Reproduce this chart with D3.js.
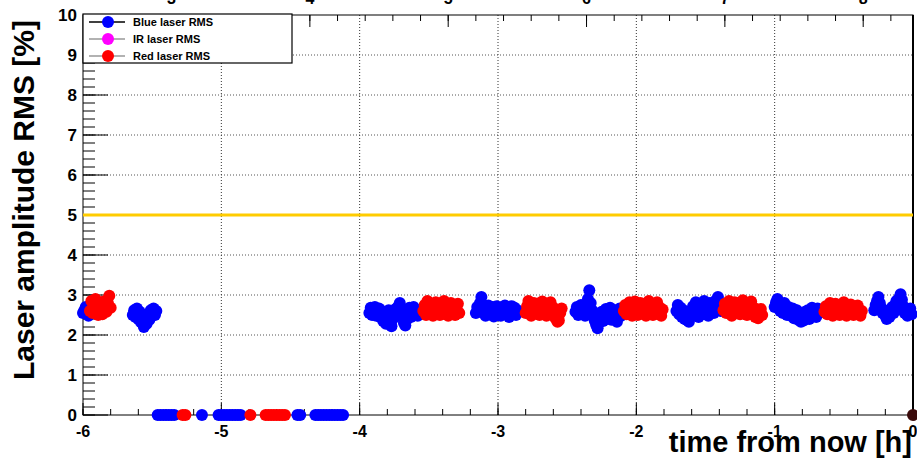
<!DOCTYPE html>
<html>
<head>
<meta charset="utf-8">
<script src="https://cdn.jsdelivr.net/npm/d3@7"></script>
<style>
  body { margin: 0; background: #fff; }
  text { font-family: "Liberation Sans", Arial, sans-serif; font-weight: bold; }
</style>
</head>
<body>
<div class="chart"></div>
<script>
// frame
let FRAME_WIDTH = 917;
let FRAME_HEIGHT = 459;
let PLOT = {left: 83, right: 913, top: 15, bottom: 415};

// blue laser RMS: time from now (h) and RMS (%)
const blueTime = [
  -6.00, -5.99, -5.98, -5.97, -5.96, -5.95, -5.94,
  -5.64, -5.63, -5.62, -5.61, -5.60, -5.59, -5.58, -5.57, -5.56, -5.55, -5.54, -5.53, -5.52, -5.51, -5.50, -5.49, -5.48, -5.47,
  -5.46, -5.44, -5.42, -5.40, -5.38, -5.36, -5.34,
  -5.14,
  -5.02, -5.00, -4.98, -4.96, -4.94, -4.92, -4.90, -4.88, -4.86,
  -4.45, -4.43,
  -4.32, -4.30, -4.28, -4.26, -4.24, -4.22, -4.20, -4.18, -4.16, -4.14, -4.12,
  -3.93, -3.92, -3.91, -3.90, -3.89, -3.88, -3.87, -3.86, -3.85, -3.84, -3.83, -3.82, -3.81, -3.80, -3.79, -3.78, -3.77, -3.76, -3.75,
  -3.74, -3.73, -3.72, -3.71, -3.70, -3.69, -3.68, -3.67, -3.66, -3.65, -3.64, -3.63, -3.62, -3.61, -3.60, -3.59, -3.58, -3.57,
  -3.16, -3.15, -3.14, -3.13, -3.12, -3.11, -3.10, -3.09, -3.08, -3.07, -3.06, -3.05, -3.04, -3.03, -3.02, -3.01,
  -3.00, -2.99, -2.98, -2.97, -2.96, -2.95, -2.94, -2.93, -2.92, -2.91, -2.90, -2.89, -2.88, -2.87, -2.86,
  -2.44, -2.43, -2.42, -2.41, -2.40, -2.39, -2.38, -2.37, -2.36, -2.35, -2.34, -2.33, -2.32, -2.31, -2.30, -2.29, -2.28,
  -2.27, -2.26, -2.25, -2.24, -2.23, -2.22, -2.21, -2.20, -2.19, -2.18, -2.17, -2.16, -2.15, -2.14, -2.13, -2.12, -2.11,
  -1.71, -1.70, -1.69, -1.68, -1.67, -1.66, -1.65, -1.64, -1.63, -1.62, -1.61, -1.60, -1.59, -1.58, -1.57, -1.56, -1.55,
  -1.54, -1.53, -1.52, -1.51, -1.50, -1.49, -1.48, -1.47, -1.46, -1.45, -1.44, -1.43, -1.42, -1.41, -1.40, -1.39,
  -1.00, -0.99, -0.98, -0.97, -0.96, -0.95, -0.94, -0.93, -0.92, -0.91, -0.90, -0.89, -0.88, -0.87, -0.86, -0.85, -0.84,
  -0.83, -0.82, -0.81, -0.80, -0.79, -0.78, -0.77, -0.76, -0.75, -0.74, -0.73, -0.72, -0.71, -0.70, -0.69, -0.68,
  -0.28, -0.27, -0.26, -0.25, -0.24, -0.23, -0.22, -0.21, -0.20, -0.19, -0.18, -0.17, -0.16, -0.15,
  -0.14, -0.13, -0.12, -0.11, -0.10, -0.09, -0.08, -0.07, -0.06, -0.05, -0.04, -0.03, -0.02, -0.01];
const blueRms = [
  2.55, 2.62, 2.70, 2.58, 2.48, 2.60, 2.66,
  2.50, 2.62, 2.45, 2.66, 2.40, 2.58, 2.32, 2.48, 2.20, 2.40, 2.28, 2.52, 2.38, 2.62, 2.48, 2.66, 2.50, 2.60,
  0, 0, 0, 0, 0, 0, 0,
  0,
  0, 0, 0, 0, 0, 0, 0, 0, 0,
  0, 0,
  0, 0, 0, 0, 0, 0, 0, 0, 0, 0, 0,
  2.55, 2.68, 2.50, 2.62, 2.70, 2.48, 2.58, 2.66, 2.45, 2.60, 2.35, 2.52, 2.28, 2.45, 2.62, 2.30, 2.22, 2.40, 2.55,
  2.65, 2.48, 2.72, 2.80, 2.62, 2.45, 2.30, 2.24, 2.38, 2.55, 2.68, 2.45, 2.60, 2.70, 2.50, 2.62, 2.48, 2.58,
  2.55, 2.70, 2.62, 2.80, 2.95, 2.72, 2.58, 2.48, 2.66, 2.74, 2.52, 2.62, 2.70, 2.46, 2.58, 2.72,
  2.55, 2.65, 2.48, 2.70, 2.60, 2.74, 2.52, 2.66, 2.45, 2.60, 2.72, 2.55, 2.68, 2.50, 2.62,
  2.58, 2.70, 2.50, 2.65, 2.75, 2.55, 2.68, 2.48, 2.72, 2.90, 3.12, 2.80, 2.62, 2.45, 2.35, 2.25, 2.17,
  2.30, 2.42, 2.58, 2.35, 2.50, 2.65, 2.40, 2.55, 2.68, 2.38, 2.52, 2.62, 2.45, 2.33, 2.55, 2.66, 2.48,
  2.60, 2.75, 2.52, 2.68, 2.45, 2.62, 2.40, 2.55, 2.36, 2.33, 2.48, 2.60, 2.72, 2.50, 2.82, 2.65, 2.45,
  2.58, 2.74, 2.52, 2.85, 2.62, 2.70, 2.48, 2.80, 2.60, 2.72, 2.55, 2.85, 2.65, 2.95, 2.78, 2.60,
  2.70, 2.82, 2.90, 2.75, 2.60, 2.72, 2.55, 2.80, 2.65, 2.50, 2.70, 2.58, 2.48, 2.66, 2.42, 2.55, 2.62,
  2.38, 2.50, 2.33, 2.45, 2.36, 2.58, 2.48, 2.62, 2.40, 2.55, 2.68, 2.50, 2.60, 2.45, 2.66, 2.55,
  2.62, 2.75, 2.85, 2.95, 2.80, 2.68, 2.55, 2.62, 2.48, 2.40, 2.52, 2.45, 2.60, 2.70,
  2.55, 2.75, 2.85, 2.68, 2.92, 3.02, 2.88, 2.72, 2.55, 2.65, 2.48, 2.58, 2.66, 2.52];

// red laser RMS
const redTime = [
  -5.95, -5.94, -5.93, -5.92, -5.91, -5.90, -5.89, -5.88, -5.87, -5.86, -5.85, -5.84, -5.83, -5.82, -5.81, -5.80,
  -5.28, -5.26,
  -4.79,
  -4.68, -4.66, -4.64, -4.62, -4.60, -4.58, -4.56, -4.54,
  -3.54, -3.53, -3.52, -3.51, -3.50, -3.49, -3.48, -3.47, -3.46, -3.45, -3.44, -3.43, -3.42, -3.41,
  -3.40, -3.39, -3.38, -3.37, -3.36, -3.35, -3.34, -3.33, -3.32, -3.31, -3.30, -3.29, -3.28,
  -2.80, -2.79, -2.78, -2.77, -2.76, -2.75, -2.74, -2.73, -2.72, -2.71, -2.70, -2.69, -2.68, -2.67,
  -2.66, -2.65, -2.64, -2.63, -2.62, -2.61, -2.60, -2.59, -2.58, -2.57, -2.56, -2.55, -2.54,
  -2.09, -2.08, -2.07, -2.06, -2.05, -2.04, -2.03, -2.02, -2.01, -2.00, -1.99, -1.98, -1.97, -1.96, -1.95,
  -1.94, -1.93, -1.92, -1.91, -1.90, -1.89, -1.88, -1.87, -1.86, -1.85, -1.84, -1.83, -1.82, -1.81,
  -1.37, -1.36, -1.35, -1.34, -1.33, -1.32, -1.31, -1.30, -1.29, -1.28, -1.27, -1.26, -1.25, -1.24, -1.23,
  -1.22, -1.21, -1.20, -1.19, -1.18, -1.17, -1.16, -1.15, -1.14, -1.13, -1.12, -1.11, -1.10, -1.09,
  -0.64, -0.63, -0.62, -0.61, -0.60, -0.59, -0.58, -0.57, -0.56, -0.55, -0.54, -0.53, -0.52, -0.51,
  -0.50, -0.49, -0.48, -0.47, -0.46, -0.45, -0.44, -0.43, -0.42, -0.41, -0.40, -0.39, -0.38, -0.37];
const redRms = [
  2.60, 2.85, 2.55, 2.72, 2.90, 2.62, 2.50, 2.78, 2.66, 2.52, 2.84, 2.70, 2.58, 2.80, 2.98, 2.68,
  0, 0,
  0,
  0, 0, 0, 0, 0, 0, 0, 0,
  2.60, 2.75, 2.50, 2.85, 2.68, 2.55, 2.78, 2.48, 2.70, 2.82, 2.58, 2.66, 2.50, 2.80,
  2.62, 2.85, 2.55, 2.72, 2.48, 2.68, 2.80, 2.58, 2.74, 2.50, 2.66, 2.78, 2.55,
  2.55, 2.72, 2.85, 2.62, 2.48, 2.70, 2.80, 2.55, 2.66, 2.78, 2.50, 2.62, 2.84, 2.58,
  2.70, 2.48, 2.75, 2.60, 2.82, 2.52, 2.68, 2.45, 2.40, 2.33, 2.36, 2.55, 2.66,
  2.60, 2.75, 2.52, 2.68, 2.82, 2.58, 2.48, 2.72, 2.84, 2.60, 2.50, 2.70, 2.80, 2.55, 2.65,
  2.78, 2.48, 2.62, 2.85, 2.56, 2.70, 2.50, 2.76, 2.62, 2.82, 2.55, 2.68, 2.48, 2.64,
  2.62, 2.78, 2.55, 2.70, 2.85, 2.60, 2.48, 2.72, 2.82, 2.58, 2.66, 2.80, 2.52, 2.74, 2.87,
  2.60, 2.70, 2.50, 2.78, 2.62, 2.84, 2.55, 2.68, 2.45, 2.60, 2.42, 2.55, 2.65, 2.50,
  2.58, 2.72, 2.52, 2.65, 2.80, 2.60, 2.48, 2.70, 2.78, 2.55, 2.66, 2.50, 2.72, 2.58,
  2.82, 2.62, 2.48, 2.70, 2.56, 2.76, 2.60, 2.50, 2.68, 2.55, 2.74, 2.62, 2.48, 2.60];

// last point at "now"
const nowTime = [0];
const nowRms = [0];

const threshold = 5;
const xTicks = [-6, -5, -4, -3, -2, -1, 0];
const yTicks = [0, 1, 2, 3, 4, 5, 6, 7, 8, 9, 10];
// clock hours on the top axis, current time ~ 8.36 h
const clockNow = 8.36;
const clockHours = [3, 4, 5, 6, 7, 8];

const legendNames = ["Blue laser RMS", "IR laser RMS", "Red laser RMS"];
const legendColors = ["#0000ff", "#ff00ff", "#ff0000"];

let svg = d3.select(".chart").append("svg")
  .attr("width", FRAME_WIDTH)
  .attr("height", FRAME_HEIGHT);

svg.append("rect").attr("width", FRAME_WIDTH).attr("height", FRAME_HEIGHT).attr("fill", "#fff");

const x = d3.scaleLinear().domain([-6, 0]).range([PLOT.left, PLOT.right]);
const y = d3.scaleLinear().domain([0, 10]).range([PLOT.bottom, PLOT.top]);

// grid
svg.append("g").selectAll("line").data(yTicks.slice(1, -1)).enter().append("line")
  .attr("x1", PLOT.left).attr("x2", PLOT.right)
  .attr("y1", d => y(d)).attr("y2", d => y(d))
  .attr("stroke", "#555").attr("stroke-width", 1).attr("stroke-dasharray", "1,2");
svg.append("g").selectAll("line").data(xTicks.slice(1, -1)).enter().append("line")
  .attr("x1", d => x(d)).attr("x2", d => x(d))
  .attr("y1", PLOT.top).attr("y2", PLOT.bottom)
  .attr("stroke", "#333").attr("stroke-width", 1).attr("stroke-dasharray", "1,2");

// bottom axis ticks
let minorX = d3.range(-6, 0.001, 0.2);
svg.append("g").selectAll("line").data(minorX).enter().append("line")
  .attr("x1", d => x(d)).attr("x2", d => x(d))
  .attr("y1", PLOT.bottom).attr("y2", PLOT.bottom - 6)
  .attr("stroke", "#000");
svg.append("g").selectAll("line").data(xTicks).enter().append("line")
  .attr("x1", d => x(d)).attr("x2", d => x(d))
  .attr("y1", PLOT.bottom).attr("y2", PLOT.bottom - 12)
  .attr("stroke", "#000");

// left axis ticks
let minorY = d3.range(0, 10.001, 0.2);
svg.append("g").selectAll("line").data(minorY).enter().append("line")
  .attr("x1", PLOT.left).attr("x2", PLOT.left + 12)
  .attr("y1", d => y(d)).attr("y2", d => y(d))
  .attr("stroke", "#000");
svg.append("g").selectAll("line").data(yTicks).enter().append("line")
  .attr("x1", PLOT.left).attr("x2", PLOT.left + 25)
  .attr("y1", d => y(d)).attr("y2", d => y(d))
  .attr("stroke", "#000");

// top axis: clock time
let minorTop = [];
clockHours.forEach(h => { for (let k = 0; k < 5; k++) minorTop.push(h - clockNow + k * 0.2); });
minorTop = minorTop.filter(t => t >= -6 && t <= 0);
svg.append("g").selectAll("line").data(minorTop).enter().append("line")
  .attr("x1", d => x(d)).attr("x2", d => x(d))
  .attr("y1", PLOT.top).attr("y2", PLOT.top + 6)
  .attr("stroke", "#000");
svg.append("g").selectAll("line").data(clockHours).enter().append("line")
  .attr("x1", d => x(d - clockNow)).attr("x2", d => x(d - clockNow))
  .attr("y1", PLOT.top).attr("y2", PLOT.top + 12)
  .attr("stroke", "#000");
svg.append("g").selectAll("text").data(clockHours).enter().append("text")
  .attr("x", d => x(d - clockNow)).attr("y", 4)
  .attr("text-anchor", "middle").attr("font-size", 16)
  .text(d => d);

// frame
svg.append("rect")
  .attr("x", PLOT.left).attr("y", PLOT.top)
  .attr("width", PLOT.right - PLOT.left).attr("height", PLOT.bottom - PLOT.top)
  .attr("fill", "none").attr("stroke", "#000").attr("stroke-width", 1);
svg.append("line")
  .attr("x1", PLOT.right).attr("x2", PLOT.right)
  .attr("y1", PLOT.top).attr("y2", PLOT.bottom)
  .attr("stroke", "#000").attr("stroke-width", 2);

// tick labels
svg.append("g").selectAll("text").data(yTicks).enter().append("text")
  .attr("x", 77).attr("y", d => y(d) + 6)
  .attr("text-anchor", "end").attr("font-size", 17)
  .text(d => d);
svg.append("g").selectAll("text").data(xTicks).enter().append("text")
  .attr("x", d => x(d)).attr("y", 437)
  .attr("text-anchor", "middle").attr("font-size", 16)
  .text(d => d);

// axis titles
svg.append("text")
  .attr("x", 912).attr("y", 452)
  .attr("text-anchor", "end").attr("font-size", 29)
  .text("time from now [h]");
svg.append("text")
  .attr("transform", "translate(34,200) rotate(-90)")
  .attr("text-anchor", "middle").attr("font-size", 30)
  .text("Laser amplitude RMS [%]");

// 5% limit
svg.append("line")
  .attr("x1", PLOT.left).attr("x2", PLOT.right)
  .attr("y1", y(threshold)).attr("y2", y(threshold))
  .attr("stroke", "#ffcc00").attr("stroke-width", 3);

// points
function drawSeries(times, vals, color) {
  svg.append("g").selectAll("circle")
    .data(times.map((t, i) => ({t: t, v: vals[i]})))
    .enter().append("circle")
    .attr("cx", d => x(d.t))
    .attr("cy", d => y(d.v))
    .attr("r", 6)
    .attr("fill", color);
}
drawSeries(blueTime, blueRms, "#0000ff");
drawSeries(redTime, redRms, "#ff0000");
drawSeries(nowTime, nowRms, "#3a0a0a");

// legend
let legend = svg.append("g");
legend.append("rect")
  .attr("x", 83).attr("y", 14).attr("width", 209).attr("height", 49)
  .attr("fill", "#fff").attr("stroke", "#000").attr("stroke-width", 1.2);
let rows = legend.selectAll("g").data(legendNames).enter().append("g")
  .attr("transform", (d, i) => "translate(0," + [22, 39, 56][i] + ")");
rows.append("line")
  .attr("x1", 89).attr("x2", 125)
  .attr("stroke", (d, i) => i === 0 ? "#000" : "#999").attr("stroke-width", 1.5);
rows.append("circle")
  .attr("cx", 108).attr("r", 6)
  .attr("fill", (d, i) => legendColors[i]);
rows.append("text")
  .attr("x", 133).attr("y", 4)
  .attr("font-size", 11)
  .text(d => d);
</script>
</body>
</html>
